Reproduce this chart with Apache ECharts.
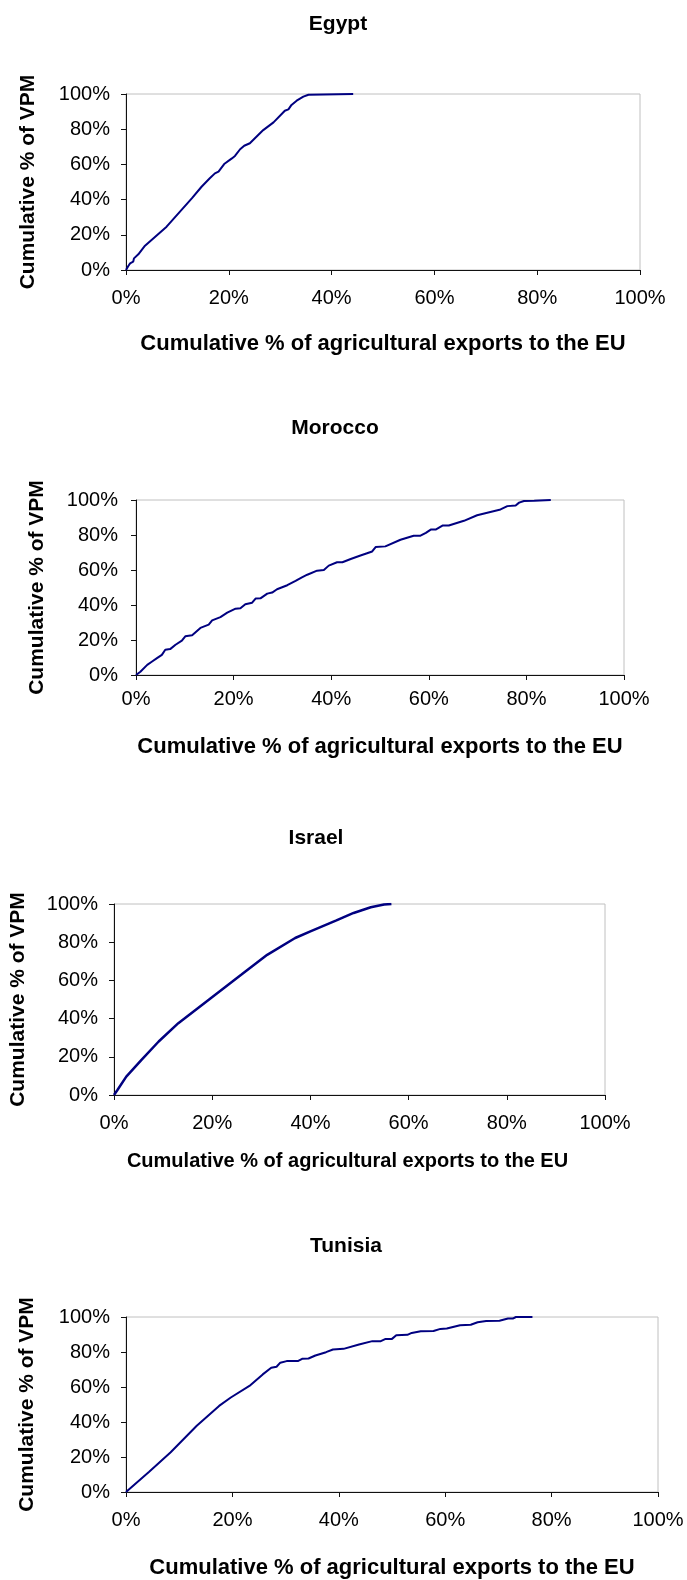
<!DOCTYPE html>
<html><head><meta charset="utf-8">
<script src="https://cdn.jsdelivr.net/npm/echarts@6/dist/echarts.min.js"></script>
<style>html,body{margin:0;padding:0;background:#fff}#c{width:687px;height:1580px}</style>
</head><body><div id="c"></div>
<script>
// ---------- DATA ----------
const panelTitles = ['Egypt', 'Morocco', 'Israel', 'Tunisia'];
const tickValues = [0, 20, 40, 60, 80, 100];
const yAxisTitle = 'Cumulative % of VPM';
const xAxisTitle = 'Cumulative % of agricultural exports to the EU';

const egyptX = [0, 0.45, 0.8, 1.4, 1.55, 2.4, 3.7, 7.9, 12.8, 14.7, 16.3, 17.3, 18.0, 19.1, 20.6, 21.2, 22.2, 23.0, 24.1, 26.7, 28.7, 30.9, 31.6, 32.2, 33.2, 34.5, 35.5, 35.8, 44.2];
const egyptY = [0, 2.3, 3.8, 4.7, 6.6, 8.9, 13.8, 24.6, 40.7, 47.3, 52.1, 54.9, 55.9, 60.2, 63.4, 64.8, 68.6, 70.6, 72.0, 79.5, 83.9, 90.5, 91.3, 93.8, 96.2, 98.5, 99.6, 100, 100];

const moroccoX = [0, 0.9, 2.3, 3.3, 4.3, 5.3, 6.0, 7.0, 8.1, 9.4, 10.1, 11.5, 13.2, 14.9, 15.6, 17.3, 18.7, 20.4, 21.4, 22.4, 23.8, 24.5, 25.5, 26.9, 27.9, 28.9, 31.0, 32.7, 34.0, 35.1, 37.1, 38.5, 39.5, 41.2, 42.3, 44.0, 46.0, 48.4, 49.1, 51.1, 54.2, 56.9, 58.3, 59.4, 60.4, 61.4, 62.8, 64.1, 67.2, 69.9, 74.7, 76.1, 77.8, 78.5, 79.5, 81.6, 81.9, 85.0];
const moroccoY = [0, 1.9, 5.8, 7.7, 9.6, 11.5, 14.4, 14.8, 17.3, 19.6, 22.1, 22.7, 26.9, 28.8, 31.2, 33.1, 35.6, 37.9, 38.1, 40.4, 41.3, 43.7, 43.8, 46.5, 47.1, 49.0, 51.3, 53.8, 55.8, 57.3, 59.6, 60.0, 62.5, 64.4, 64.4, 66.3, 68.3, 70.6, 73.1, 73.5, 77.3, 79.6, 79.6, 81.2, 83.1, 83.1, 85.4, 85.4, 88.1, 91.3, 94.6, 96.5, 96.9, 98.5, 99.4, 99.6, 100, 100];

const israelX = [0, 0.7, 2.5, 5.6, 9.1, 13.1, 19.7, 25.9, 31.2, 36.9, 40.0, 45.3, 48.8, 52.3, 55.0, 56.5];
const israelY = [0, 2.6, 9.6, 18.4, 28.0, 37.6, 50.7, 62.9, 73.4, 82.2, 85.7, 91.4, 95.3, 98.3, 99.7, 100];

const tunisiaX = [0, 4.3, 8.4, 13.3, 17.5, 19.7, 23.2, 25.7, 27.3, 28.3, 29.0, 30.2, 32.3, 33.1, 34.3, 35.6, 37.6, 38.9, 40.9, 43.8, 46.3, 47.9, 48.8, 50.0, 50.8, 52.9, 53.7, 55.4, 57.8, 59.1, 60.3, 62.8, 64.8, 66.1, 67.7, 70.2, 71.8, 72.7, 73.3, 76.4];
const tunisiaY = [0, 11.4, 22.7, 37.9, 49.2, 54.0, 60.6, 67.2, 71.0, 71.6, 73.9, 74.8, 74.8, 76.1, 76.3, 78.0, 79.9, 81.4, 81.8, 84.3, 86.2, 86.2, 87.5, 87.5, 89.6, 89.8, 90.9, 91.9, 92.0, 93.2, 93.4, 95.3, 95.6, 97.0, 97.7, 97.9, 99.1, 99.1, 100, 100];

const seriesX = [egyptX, moroccoX, israelX, tunisiaX];
const seriesY = [egyptY, moroccoY, israelY, tunisiaY];

// ---------- LAYOUT ----------
const layout = [
  {left:126, top:94,  width:514, height:176, titleX:338, titleY:24,  xMargin:18, yMargin:16, xNameGap:63, yNameGap:87, xNameSize:22, xNameShift:0,  lw:2},
  {left:136, top:500, width:488, height:175, titleX:335, titleY:428, xMargin:14, yMargin:18, xNameGap:61, yNameGap:88, xNameSize:22, xNameShift:0,  lw:2},
  {left:109, top:904, width:496, height:191, titleX:316, titleY:838, xMargin:18, yMargin:16, xNameGap:56, yNameGap:85, xNameSize:20, xNameShift:24, lw:2.5},
  {left:126, top:1317,width:532, height:176, titleX:346, titleY:1246,xMargin:18, yMargin:16, xNameGap:65, yNameGap:88, xNameSize:22, xNameShift:0,  lw:2}
];
const FONT = '"Liberation Sans", Arial, sans-serif';

const grids = [], xAxes = [], yAxes = [], series = [], graphics = [];
layout.forEach((L, i) => {
  grids.push({left:L.left, top:L.top, width:L.width, height:L.height, show:true,
    borderColor:'#c0c0c0', borderWidth:1, backgroundColor:'rgba(0,0,0,0)', containLabel:false});
  const common = {
    type:'value', gridIndex:i, min:tickValues[0], max:tickValues[tickValues.length-1],
    interval:tickValues[1]-tickValues[0],
    axisLine:{show:true, onZero:false, lineStyle:{color:'#111', width:1}},
    axisTick:{show:true, inside:false, length:5, lineStyle:{color:'#111', width:1}},
    splitLine:{show:false},
    nameLocation:'middle'
  };
  xAxes.push(Object.assign({}, common, {
    axisLabel:{formatter:'{value}%', fontSize:20, color:'#000', fontFamily:FONT, margin:L.xMargin},
    name:xAxisTitle, nameGap:L.xNameGap,
    nameTextStyle:{fontSize:L.xNameSize, fontWeight:'bold', color:'#000', fontFamily:FONT, padding:[0, L.xNameShift, 0, 0]}
  }));
  yAxes.push(Object.assign({}, common, {
    axisLabel:{formatter:'{value}%', fontSize:20, color:'#000', fontFamily:FONT, margin:L.yMargin},
    name:yAxisTitle, nameGap:L.yNameGap, nameRotate:90,
    nameTextStyle:{fontSize:21, fontWeight:'bold', color:'#000', fontFamily:FONT}
  }));
  series.push({
    type:'line', xAxisIndex:i, yAxisIndex:i, showSymbol:false, symbol:'none',
    data: seriesX[i].map((x, k) => [x, seriesY[i][k]]),
    lineStyle:{color:'#000080', width:L.lw}, z:3
  });
  graphics.push({type:'text', x:L.titleX, y:L.titleY,
    style:{text:panelTitles[i], fontSize:21, fontWeight:'bold', fontFamily:FONT, fill:'#000', align:'center', verticalAlign:'middle'}});
});

const chart = echarts.init(document.getElementById('c'), null, {renderer:'canvas'});
chart.setOption({
  animation:false,
  backgroundColor:'#fff',
  grid:grids, xAxis:xAxes, yAxis:yAxes, series:series, graphic:graphics
});
</script></body></html>
